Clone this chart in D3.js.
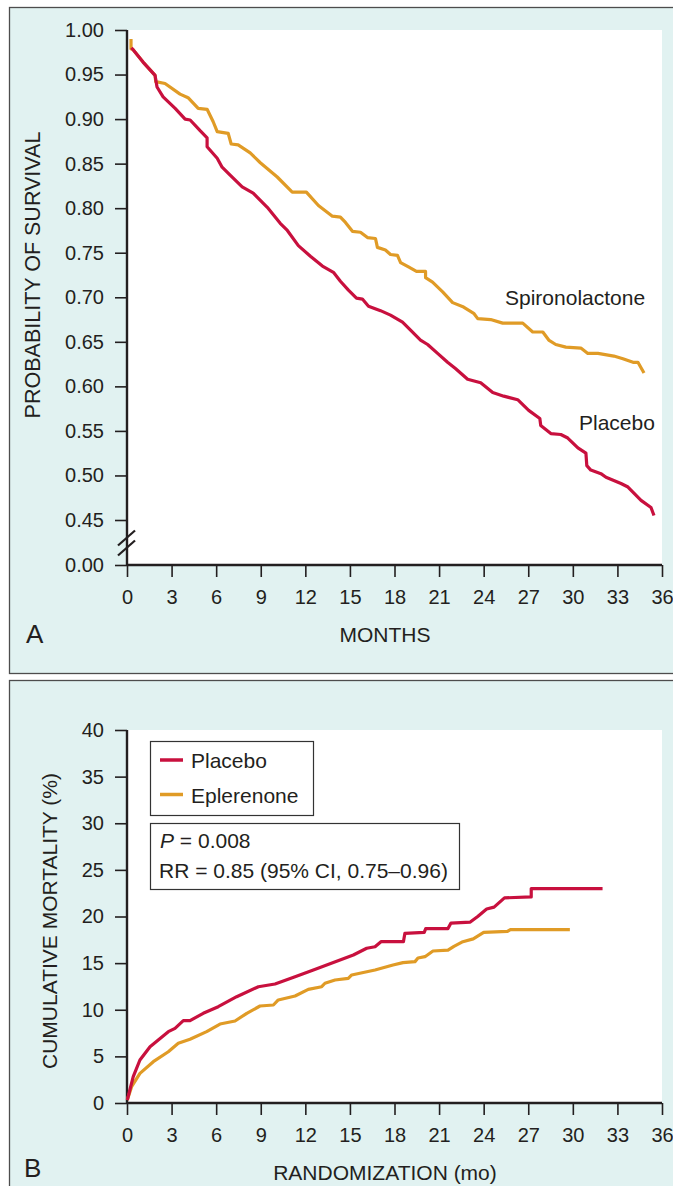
<!DOCTYPE html>
<html>
<head>
<meta charset="utf-8">
<script src="https://cdn.jsdelivr.net/npm/d3@7"></script>
<style>
  html, body { margin: 0; padding: 0; background: #ffffff; }
  svg { display: block; font-family: "Liberation Sans", Arial, sans-serif; }
</style>
</head>
<body>
<svg id="chart" width="673" height="1186"></svg>
<script>
// ---- Panel A: probability of survival (months, value) ----
const spironolactone = [
  [0.27, 0.990], [0.27, 0.979], [0.40, 0.978], [1.08, 0.964], [1.89, 0.949], [1.93, 0.942],
  [2.56, 0.940], [3.57, 0.928], [4.11, 0.924], [4.79, 0.912], [5.39, 0.911], [5.80, 0.897],
  [6.07, 0.886], [6.81, 0.884], [7.01, 0.872], [7.48, 0.871], [8.29, 0.862], [8.97, 0.851],
  [10.11, 0.835], [11.12, 0.818], [12.07, 0.818], [12.88, 0.803], [13.82, 0.791], [14.36, 0.790],
  [14.70, 0.784], [15.17, 0.774], [15.71, 0.773], [16.18, 0.767], [16.72, 0.766], [16.85, 0.756],
  [17.39, 0.753], [17.73, 0.748], [18.20, 0.747], [18.41, 0.739], [18.94, 0.734], [19.48, 0.729],
  [20.09, 0.729], [20.09, 0.722], [20.56, 0.717], [21.24, 0.706], [21.91, 0.694], [22.65, 0.689],
  [23.33, 0.682], [23.60, 0.676], [24.47, 0.675], [25.28, 0.671], [26.63, 0.671], [27.30, 0.661],
  [27.98, 0.661], [28.38, 0.652], [28.85, 0.647], [29.53, 0.644], [30.54, 0.643], [31.01, 0.637],
  [31.69, 0.637], [32.76, 0.634], [33.37, 0.631], [34.05, 0.627], [34.38, 0.627], [34.79, 0.615]
];
const placeboA = [
  [0.30, 0.980], [0.40, 0.978], [1.08, 0.964], [1.89, 0.949], [2.02, 0.936], [2.43, 0.925],
  [3.24, 0.912], [3.91, 0.900], [4.25, 0.899], [4.92, 0.887], [5.39, 0.879], [5.39, 0.869],
  [6.07, 0.856], [6.40, 0.846], [6.94, 0.837], [7.75, 0.824], [8.49, 0.817], [9.44, 0.801],
  [10.31, 0.783], [10.79, 0.775], [11.53, 0.758], [12.34, 0.746], [13.15, 0.735], [13.89, 0.728],
  [14.36, 0.718], [14.90, 0.708], [15.44, 0.699], [15.84, 0.698], [16.25, 0.690], [17.06, 0.685],
  [17.73, 0.680], [18.54, 0.672], [19.08, 0.663], [19.75, 0.652], [20.23, 0.647], [20.90, 0.637],
  [21.57, 0.627], [22.10, 0.620], [22.92, 0.608], [23.80, 0.604], [24.61, 0.593], [25.35, 0.589],
  [26.29, 0.585], [27.03, 0.573], [27.78, 0.564], [27.84, 0.556], [28.52, 0.547], [29.19, 0.546],
  [29.66, 0.542], [30.34, 0.531], [30.88, 0.525], [30.94, 0.511], [31.21, 0.506], [31.89, 0.502],
  [32.23, 0.498], [33.24, 0.491], [33.71, 0.487], [34.59, 0.472], [35.26, 0.464], [35.46, 0.455]
];
const survivalTicks = [0.00, 0.45, 0.50, 0.55, 0.60, 0.65, 0.70, 0.75, 0.80, 0.85, 0.90, 0.95, 1.00];

// ---- Panel B: cumulative mortality (months, %) ----
const placeboB = [
  [0.02, 0.32], [0.42, 2.82], [0.87, 4.61], [1.55, 6.04], [2.78, 7.65], [3.23, 8.01],
  [3.79, 8.83], [4.24, 8.83], [5.13, 9.62], [6.14, 10.33], [7.38, 11.40], [8.84, 12.47],
  [9.96, 12.76], [11.31, 13.54], [12.54, 14.26], [15.23, 15.87], [16.13, 16.59], [16.69, 16.76],
  [17.09, 17.30], [18.60, 17.30], [18.70, 18.20], [20.00, 18.30], [20.10, 18.70], [21.60, 18.70],
  [21.80, 19.30], [23.10, 19.40], [23.60, 20.00], [24.20, 20.80], [24.70, 21.00], [25.40, 22.00],
  [27.20, 22.10], [27.20, 23.00], [32.00, 23.00]
];
const eplerenone = [
  [0.02, 0.32], [0.31, 1.75], [0.87, 3.18], [1.77, 4.43], [2.78, 5.50], [3.45, 6.40],
  [4.24, 6.83], [5.36, 7.65], [6.26, 8.47], [7.27, 8.79], [8.06, 9.62], [8.95, 10.40],
  [9.85, 10.51], [10.18, 11.05], [11.31, 11.47], [12.20, 12.19], [13.10, 12.47], [13.32, 12.84],
  [14.00, 13.19], [14.89, 13.37], [15.12, 13.73], [16.69, 14.26], [17.90, 14.80], [18.57, 15.05],
  [19.38, 15.16], [19.58, 15.55], [20.05, 15.69], [20.59, 16.30], [21.60, 16.40], [22.00, 16.80],
  [22.60, 17.30], [23.30, 17.60], [24.00, 18.30], [25.60, 18.40], [25.80, 18.60], [29.80, 18.60]
];
const mortalityTicks = [0, 5, 10, 15, 20, 25, 30, 35, 40];
const monthTicks = d3.range(0, 37, 3);

const RED = "#c8103e";
const ORANGE = "#e09b26";
const PANEL_BG = "#e1f2f1";
const INK = "#231f20";
const TICK_FONT = 20;
const TEXT_FONT = 21;

const svg = d3.select("#chart");

// Panel frames
function panelFrame(y0, y1) {
  svg.append("rect")
    .attr("x", 9.5).attr("y", y0 + 0.5)
    .attr("width", 680).attr("height", y1 - y0)
    .attr("fill", PANEL_BG).attr("stroke", "#4d4d4d").attr("stroke-width", 1.3);
}
panelFrame(7, 673);
panelFrame(680, 1200);

// Shared plot geometry
const xLeft = 127, xRight = 662;

function drawAxes(g, x, y, yTicks, yFmt, plotTop, plotBottom) {
  // white plot area
  g.append("rect")
    .attr("x", xLeft).attr("y", plotTop)
    .attr("width", xRight - xLeft).attr("height", plotBottom - plotTop)
    .attr("fill", "#ffffff");

  const xAxis = d3.axisBottom(x).tickValues(monthTicks).tickSize(12).tickPadding(13)
    .tickFormat(d3.format("d"));
  const gx = g.append("g").attr("transform", `translate(0,${plotBottom})`).call(xAxis);
  const yAxis = d3.axisLeft(y).tickValues(yTicks).tickSize(12).tickPadding(11)
    .tickFormat(yFmt);
  const gy = g.append("g").attr("transform", `translate(${xLeft},0)`).call(yAxis);

  [gx, gy].forEach(a => {
    a.select(".domain").attr("stroke", INK).attr("stroke-width", 2.4);
    a.selectAll(".tick line").attr("stroke", INK).attr("stroke-width", 1.6);
    a.selectAll(".tick text")
      .attr("fill", INK).style("font-size", TICK_FONT + "px")
      .style("font-family", '"Liberation Sans", Arial, sans-serif');
  });
  gx.select(".domain").attr("d", `M${xLeft},0H${xRight}`);
  gy.select(".domain").attr("d", `M0,${plotTop}V${plotBottom}`);
  return { gx, gy };
}

// ================= Panel A =================
{
  const plotTop = 30, plotBottom = 565;
  const x = d3.scaleLinear().domain([0, 36]).range([xLeft, xRight]);
  // broken axis: 0.00 sits just below 0.45
  const y = d3.scaleLinear().domain([0, 0.45, 1.0]).range([plotBottom, 520, plotTop]);
  const g = svg.append("g");
  drawAxes(g, x, y, survivalTicks, d3.format(".2f"), plotTop, plotBottom);

  // axis break marks
  const yb = (y(0) + y(0.45)) / 2;
  [-5, 5].forEach(off => {
    g.append("line")
      .attr("x1", xLeft - 9).attr("y1", yb + off + 8)
      .attr("x2", xLeft + 8).attr("y2", yb + off - 7)
      .attr("stroke", INK).attr("stroke-width", 2.2);
  });

  const line = d3.line().x(d => x(d[0])).y(d => y(d[1]));
  g.append("path").datum(spironolactone).attr("d", line)
    .attr("fill", "none").attr("stroke", ORANGE).attr("stroke-width", 3.2)
    .attr("stroke-linejoin", "round");
  g.append("path").datum(placeboA).attr("d", line)
    .attr("fill", "none").attr("stroke", RED).attr("stroke-width", 3.2)
    .attr("stroke-linejoin", "round");

  g.append("text").attr("x", 505).attr("y", 305).attr("fill", INK)
    .style("font-size", TEXT_FONT + "px").text("Spironolactone");
  g.append("text").attr("x", 579).attr("y", 430).attr("fill", INK)
    .style("font-size", TEXT_FONT + "px").text("Placebo");

  g.append("text").attr("x", 385).attr("y", 642).attr("text-anchor", "middle")
    .attr("fill", INK).style("font-size", "21px").text("MONTHS");
  g.append("text").attr("x", 26).attr("y", 643).attr("fill", INK)
    .style("font-size", "26px").text("A");
  g.append("text")
    .attr("transform", `translate(40,275) rotate(-90)`)
    .attr("text-anchor", "middle").attr("fill", INK)
    .style("font-size", "21.5px").text("PROBABILITY OF SURVIVAL");
}

// ================= Panel B =================
{
  const plotTop = 730, plotBottom = 1103;
  const x = d3.scaleLinear().domain([0, 36]).range([xLeft, xRight]);
  const y = d3.scaleLinear().domain([0, 40]).range([plotBottom, plotTop]);
  const g = svg.append("g");
  drawAxes(g, x, y, mortalityTicks, d3.format("d"), plotTop, plotBottom);

  const line = d3.line().x(d => x(d[0])).y(d => y(d[1]));
  g.append("path").datum(eplerenone).attr("d", line)
    .attr("fill", "none").attr("stroke", ORANGE).attr("stroke-width", 3.2)
    .attr("stroke-linejoin", "round");
  g.append("path").datum(placeboB).attr("d", line)
    .attr("fill", "none").attr("stroke", RED).attr("stroke-width", 3.2)
    .attr("stroke-linejoin", "round");

  // legend
  g.append("rect").attr("x", 150.5).attr("y", 741.5).attr("width", 163).attr("height", 74)
    .attr("fill", "#ffffff").attr("stroke", "#333333").attr("stroke-width", 1.2);
  const legend = [{ name: "Placebo", color: RED }, { name: "Eplerenone", color: ORANGE }];
  legend.forEach((d, i) => {
    const ly = 760 + i * 34.5;
    g.append("line").attr("x1", 160).attr("x2", 183).attr("y1", ly).attr("y2", ly)
      .attr("stroke", d.color).attr("stroke-width", 3.5);
    g.append("text").attr("x", 191).attr("y", ly + 8).attr("fill", INK)
      .style("font-size", TEXT_FONT + "px").text(d.name);
  });

  // statistics box
  g.append("rect").attr("x", 150.5).attr("y", 823.5).attr("width", 309).attr("height", 66)
    .attr("fill", "#ffffff").attr("stroke", "#333333").attr("stroke-width", 1.2);
  const t1 = g.append("text").attr("x", 160).attr("y", 848).attr("fill", INK)
    .style("font-size", TEXT_FONT + "px");
  t1.append("tspan").style("font-style", "italic").text("P");
  t1.append("tspan").text(" = 0.008");
  g.append("text").attr("x", 159).attr("y", 878).attr("fill", INK)
    .style("font-size", TEXT_FONT + "px").text("RR = 0.85 (95% CI, 0.75–0.96)");

  g.append("text").attr("x", 385).attr("y", 1180).attr("text-anchor", "middle")
    .attr("fill", INK).style("font-size", "21px").text("RANDOMIZATION (mo)");
  g.append("text").attr("x", 24).attr("y", 1177).attr("fill", INK)
    .style("font-size", "26px").text("B");
  g.append("text")
    .attr("transform", `translate(57,921) rotate(-90)`)
    .attr("text-anchor", "middle").attr("fill", INK)
    .style("font-size", "21px").text("CUMULATIVE MORTALITY (%)");
}
</script>
</body>
</html>
